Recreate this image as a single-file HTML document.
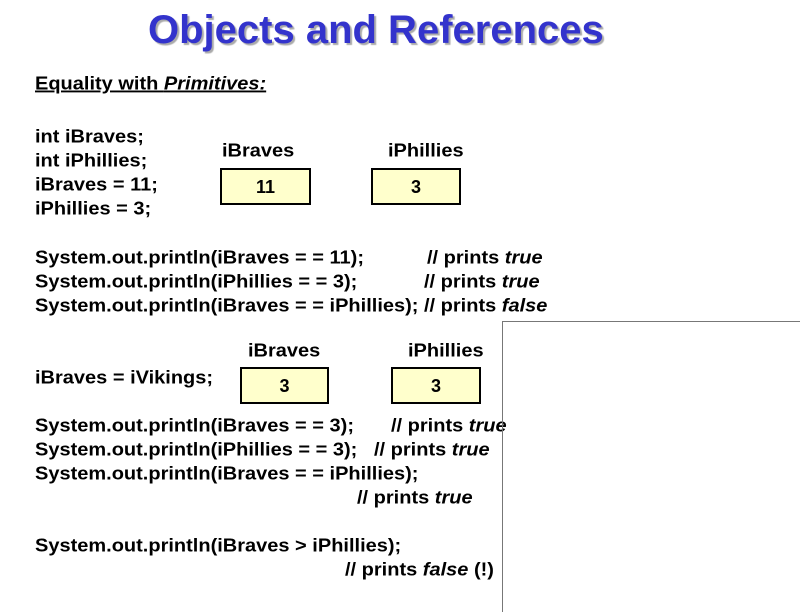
<!DOCTYPE html>
<html><head><style>
body{margin:0;width:800px;height:600px;background:#fff;position:relative;overflow:hidden;font-family:"Liberation Sans",Arial,sans-serif;color:#000}
.t{position:absolute;font-size:20px;font-weight:bold;line-height:24px;white-space:pre;transform:scaleY(0.93);transform-origin:0 50%;margin-top:1px}
.b{position:absolute;background:#ffffcc;border:2px solid #000;box-sizing:border-box;font-size:18px;font-weight:bold;text-align:center;line-height:34px}
h1{position:absolute;left:148px;top:8px;margin:0;font-size:40px;font-weight:bold;color:#3333cc;text-shadow:2px 2px 1px #aaa;white-space:nowrap}
</style></head><body>
<h1>Objects and References</h1>
<div class="t" style="left:35px;top:71px;text-decoration:underline">Equality with <i>Primitives:</i></div>
<div class="t" style="left:35px;top:124px">int iBraves;</div>
<div class="t" style="left:35px;top:148px">int iPhillies;</div>
<div class="t" style="left:35px;top:172px">iBraves = 11;</div>
<div class="t" style="left:35px;top:196px">iPhillies = 3;</div>
<div class="t" style="left:222px;top:138px">iBraves</div>
<div class="t" style="left:388px;top:138px">iPhillies</div>
<div class="b" style="left:220px;top:168px;width:91px;height:37px">11</div>
<div class="b" style="left:371px;top:168px;width:90px;height:37px">3</div>
<div class="t" style="left:35px;top:245px">System.out.println(iBraves = = 11);</div>
<div class="t" style="left:35px;top:269px">System.out.println(iPhillies = = 3);</div>
<div class="t" style="left:35px;top:293px">System.out.println(iBraves = = iPhillies); // prints <i>false</i></div>
<div class="t" style="left:427px;top:245px">// prints <i>true</i></div>
<div class="t" style="left:424px;top:269px">// prints <i>true</i></div>
<div class="t" style="left:248px;top:338px">iBraves</div>
<div class="t" style="left:408px;top:338px">iPhillies</div>
<div class="t" style="left:35px;top:365px">iBraves = iVikings;</div>
<div class="b" style="left:240px;top:367px;width:89px;height:37px">3</div>
<div class="b" style="left:391px;top:367px;width:90px;height:37px">3</div>
<div class="t" style="left:35px;top:413px">System.out.println(iBraves = = 3);</div>
<div class="t" style="left:35px;top:437px">System.out.println(iPhillies = = 3);</div>
<div class="t" style="left:35px;top:461px">System.out.println(iBraves = = iPhillies);</div>
<div class="t" style="left:391px;top:413px">// prints <i>true</i></div>
<div class="t" style="left:374px;top:437px">// prints <i>true</i></div>
<div class="t" style="left:357px;top:485px">// prints <i>true</i></div>
<div class="t" style="left:35px;top:533px">System.out.println(iBraves &gt; iPhillies);</div>
<div class="t" style="left:345px;top:557px">// prints <i>false</i> (!)</div>
<div style="position:absolute;left:502px;top:321px;width:300px;height:290px;border-left:1px solid #777;border-top:1px solid #777"></div>
</body></html>
